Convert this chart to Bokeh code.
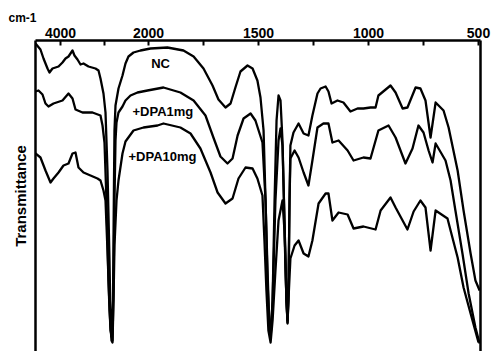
import numpy as np
from bokeh.plotting import figure
from bokeh.models import Range1d, FixedTicker, LinearAxis, Label
from bokeh.embed import file_html
from bokeh.resources import INLINE

# ---- data: wavenumber (cm-1) and transmittance (arbitrary units) ----
nc_wn = [4568, 4455, 4386, 4295, 4250, 4182, 4045, 3955, 3886, 3818,
         3727, 3682, 3614, 3545, 3477, 3364, 3205, 3136, 3091, 3023,
         2977, 2932, 2886, 2864, 2841, 2807, 2784, 2773, 2750, 2682,
         2591, 2523, 2455, 2341, 2182, 1991, 1914, 1841, 1795, 1750,
         1709, 1682, 1650, 1627, 1605, 1582, 1550, 1527, 1505, 1491,
         1477, 1468, 1459, 1450, 1445, 1436, 1427, 1418, 1409, 1400,
         1391, 1382, 1373, 1368, 1364, 1359, 1355, 1341, 1318, 1295,
         1273, 1255, 1232, 1218, 1195, 1182, 1168, 1141, 1114, 1082,
         1050, 1023, 991, 968, 955, 900, 877, 845, 823, 786,
         764, 741, 718, 695, 659, 636, 595, 568, 536, 514,
         495]
nc_t = [308, 302, 293, 283, 279, 283, 285, 289, 293, 295,
        301, 296, 292, 287, 288, 285, 283, 281, 273, 258,
        239, 181, 91, 31, 15, 51, 171, 221, 246, 263,
        276, 288, 295, 299, 301, 303, 304, 301, 295, 283,
        266, 252, 244, 248, 264, 280, 286, 283, 271, 254,
        221, 151, 71, 21, 15, 51, 151, 231, 256, 251,
        211, 131, 51, 31, 51, 151, 206, 219, 228, 218,
        216, 236, 258, 263, 265, 260, 248, 251, 249, 240,
        243, 243, 244, 244, 256, 266, 259, 243, 244, 264,
        263, 251, 214, 249, 241, 224, 181, 141, 98, 71,
        61]

dpa1_wn = [4568, 4500, 4409, 4341, 4273, 4159, 3955, 3818, 3727, 3659,
           3500, 3273, 3091, 3045, 3000, 2955, 2909, 2864, 2818, 2795,
           2773, 2750, 2727, 2682, 2591, 2523, 2409, 2250, 2023, 1932,
           1855, 1795, 1741, 1705, 1673, 1641, 1618, 1595, 1568, 1536,
           1514, 1482, 1468, 1459, 1450, 1445, 1436, 1423, 1409, 1400,
           1391, 1382, 1373, 1368, 1364, 1359, 1355, 1336, 1318, 1295,
           1273, 1255, 1232, 1205, 1182, 1164, 1136, 1095, 1068, 1023,
           991, 955, 909, 877, 832, 800, 773, 750, 727, 709,
           695, 650, 627, 605, 573, 545, 514, 495]
dpa1_t = [260, 261, 257, 248, 245, 248, 251, 258, 253, 242,
          239, 239, 236, 226, 209, 151, 71, 21, 11, 61,
          151, 211, 229, 239, 245, 251, 256, 259, 261, 264,
          259, 251, 236, 214, 195, 188, 193, 216, 233, 238,
          231, 209, 151, 81, 21, 13, 51, 151, 211, 223,
          206, 131, 51, 29, 61, 151, 193, 201, 194, 179,
          166, 191, 224, 228, 228, 209, 211, 201, 191, 194,
          193, 221, 226, 214, 188, 203, 226, 219, 201, 189,
          208, 191, 171, 141, 98, 58, 24, 8]

dpa10_wn = [4568, 4455, 4341, 4227, 4159, 4045, 3932, 3818, 3727, 3659,
            3591, 3477, 3318, 3159, 3091, 3023, 2977, 2932, 2886, 2841,
            2818, 2795, 2773, 2727, 2682, 2591, 2523, 2341, 2114, 1959,
            1932, 1855, 1809, 1764, 1718, 1686, 1650, 1618, 1591, 1559,
            1527, 1505, 1482, 1473, 1464, 1455, 1445, 1436, 1423, 1409,
            1391, 1382, 1373, 1368, 1364, 1355, 1336, 1318, 1295, 1273,
            1255, 1227, 1195, 1182, 1164, 1136, 1095, 1068, 1023, 968,
            945, 900, 877, 823, 795, 764, 741, 718, 695, 641,
            627, 595, 568, 536, 500]
dpa10_t = [198, 194, 181, 169, 173, 179, 186, 188, 198, 199,
           184, 179, 176, 173, 171, 161, 151, 101, 41, 11,
           9, 51, 106, 151, 171, 198, 210, 221, 224, 226,
           228, 224, 218, 203, 179, 159, 148, 153, 173, 184,
           183, 173, 156, 111, 61, 21, 9, 31, 81, 131,
           151, 121, 51, 28, 51, 93, 106, 111, 98, 95,
           111, 148, 158, 158, 131, 139, 137, 123, 125, 122,
           141, 154, 144, 122, 140, 151, 144, 101, 141, 133,
           121, 94, 64, 38, 9]

series_names = ["NC", "+DPA1mg", "+DPA10mg"]
label_wn = [1945, 2364, 2455]
label_t = [288, 240, 195]

tick_wn = [4000, 3000, 2000, 1750, 1500, 1250, 1000, 750, 500]
tick_labels = ["4000", "", "2000", "", "1500", "", "1000", "", "500"]


# split wavenumber scale: 4000-2000 compressed 5x relative to 2000-500
def to_u(wn):
    return np.interp(-np.asarray(wn, dtype=float), [-6000, -2000, -400], [-400, 400, 2000])


p = figure(width=491, height=351, output_backend="svg", toolbar_location=None,
           x_range=Range1d(float(to_u(4568)), float(to_u(491))),
           y_range=Range1d(0, 311), x_axis_location="above",
           min_border_left=35, min_border_right=11, min_border_top=40,
           min_border_bottom=0)
p.outline_line_color = None
p.xgrid.visible = False
p.ygrid.visible = False
p.background_fill_color = "white"
p.border_fill_color = "white"

# "cm-1" unit caption at the top left, as the figure title
p.title.text = "cm-1"
p.title.align = "left"
p.title.offset = -27
p.title.standoff = 0
p.title.text_font = "Liberation Sans"
p.title.text_font_style = "bold"
p.title.text_font_size = "12px"
p.title.text_color = "black"

tick_u = [int(round(float(to_u(w)))) for w in tick_wn]
xa = p.xaxis[0]
xa.ticker = FixedTicker(ticks=tick_u)
xa.major_label_overrides = {u: lab for u, lab in zip(tick_u, tick_labels)}
xa.major_tick_in = 5
xa.major_tick_out = 0
xa.minor_tick_line_color = None
xa.major_tick_line_width = 2
xa.axis_line_width = 2.5
xa.major_label_standoff = 3
xa.major_label_text_font = "Liberation Sans"
xa.major_label_text_font_style = "bold"
xa.major_label_text_font_size = "14px"
xa.major_label_text_color = "black"

ya = p.yaxis[0]
ya.ticker = FixedTicker(ticks=[])
ya.major_tick_in = 0
ya.major_tick_out = 0
ya.minor_tick_line_color = None
ya.major_label_standoff = 0
ya.axis_line_width = 2.5
ya.axis_label = "Transmittance"
ya.axis_label_text_font = "Liberation Sans"
ya.axis_label_text_font_style = "bold"
ya.axis_label_text_font_size = "15px"
ya.axis_label_text_color = "black"
ya.axis_label_standoff = 7

ra = LinearAxis(ticker=FixedTicker(ticks=[]), axis_line_width=2.5,
                major_tick_in=0, major_tick_out=0, minor_tick_line_color=None,
                major_label_standoff=0)
p.add_layout(ra, "right")

for wn, t in [(nc_wn, nc_t), (dpa1_wn, dpa1_t), (dpa10_wn, dpa10_t)]:
    p.line(to_u(wn), t, line_color="black", line_width=2.3, line_join="round")

aligns = ["center", "left", "left"]
for name, w, t, al in zip(series_names, label_wn, label_t, aligns):
    p.add_layout(Label(x=float(to_u(w)), y=t, text=name, text_align=al,
                       text_baseline="middle", text_font="Liberation Sans",
                       text_font_style="bold", text_font_size="13px",
                       text_color="black"))

open("out.html", "w").write(file_html(p, INLINE))
